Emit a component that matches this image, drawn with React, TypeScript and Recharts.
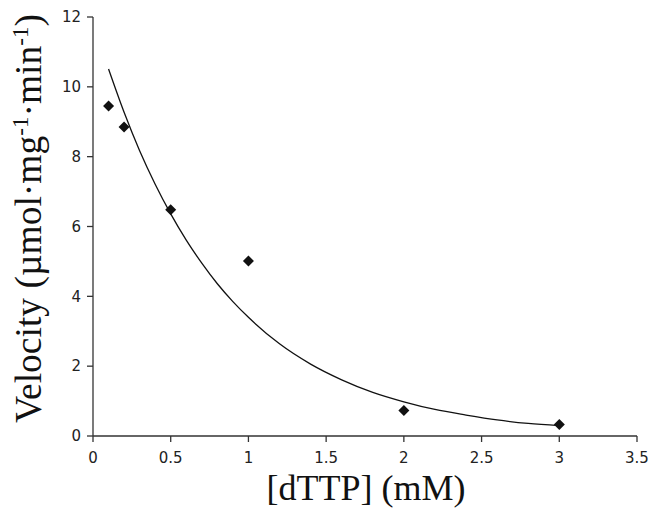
import { ComposedChart, Line, Scatter, XAxis, YAxis, Label } from "recharts";

// measured dTTP concentrations (mM) and velocities
const concentrations = [0.1, 0.2, 0.5, 1, 2, 3];
const velocities = [9.45, 8.85, 6.48, 5.01, 0.73, 0.33];

// fitted trend curve as drawn in the figure
const curveX = [0.1, 0.2, 0.3, 0.4, 0.5, 0.6, 0.7, 0.8, 0.9, 1.0, 1.2, 1.4, 1.6, 1.8, 2.0, 2.2, 2.4, 2.6, 2.8, 3.0];
const curveY = [10.51, 9.27, 8.17, 7.21, 6.36, 5.61, 4.95, 4.36, 3.85, 3.4, 2.64, 2.06, 1.61, 1.25, 0.98, 0.76, 0.6, 0.46, 0.36, 0.3];

const xTicks = [0, 0.5, 1, 1.5, 2, 2.5, 3, 3.5];
const yTicks = [0, 2, 4, 6, 8, 10, 12];

const points = concentrations.map((x, i) => ({ x, y: velocities[i] }));
const curve = curveX.map((x, i) => ({ x, y: curveY[i] }));

const tickStyle = { fontFamily: "DejaVu Sans", fontSize: 15, fill: "#222" };
const serif = "Liberation Serif";

const Diamond = (props: any) => {
  const { cx, cy } = props;
  const r = 5.5;
  return (
    <polygon
      points={`${cx},${cy - r} ${cx + r},${cy} ${cx},${cy + r} ${cx - r},${cy}`}
      fill="#111"
    />
  );
};

const XTitle = (props: any) => {
  const { x, width, y } = props.viewBox;
  return (
    <text x={x + width / 2 + 1} y={y + 64} textAnchor="middle" fontFamily={serif} fontSize={36} fill="#111">
      [dTTP] (mM)
    </text>
  );
};

const YTitle = (props: any) => {
  const { x, y, height } = props.viewBox;
  const cx = x + 41;
  const cy = y + height / 2 - 8;
  return (
    <text
      x={cx}
      y={cy}
      transform={`rotate(-90, ${cx}, ${cy})`}
      textAnchor="middle"
      fontFamily={serif}
      fontSize={37.5}
      fill="#111"
    >
      Velocity (µmol·mg
      <tspan fontSize={23} dy={-13}>-1</tspan>
      <tspan dy={13}>·min</tspan>
      <tspan fontSize={23} dy={-13}>-1</tspan>
      <tspan dy={13}>)</tspan>
    </text>
  );
};

export default function App() {
  return (
    <div style={{ position: "absolute", left: 0, top: 0, background: "#fff" }}>
      <ComposedChart
        width={654}
        height={508}
        margin={{ top: 17, right: 17, bottom: 0, left: 0 }}
      >
        <XAxis
          type="number"
          dataKey="x"
          domain={[0, 3.5]}
          ticks={xTicks}
          height={72}
          tick={tickStyle}
          tickSize={6}
          tickMargin={10}
          stroke="#333"
          strokeWidth={1.3}
        >
          <Label content={XTitle} />
        </XAxis>
        <YAxis
          type="number"
          dataKey="y"
          domain={[0, 12]}
          ticks={yTicks}
          width={93}
          tick={tickStyle}
          tickSize={6}
          tickMargin={6}
          stroke="#333"
          strokeWidth={1.3}
        >
          <Label content={YTitle} />
        </YAxis>
        <Line
          data={curve}
          dataKey="y"
          type="monotone"
          stroke="#111"
          strokeWidth={1.3}
          dot={false}
          isAnimationActive={false}
        />
        <Scatter data={points} dataKey="y" shape={Diamond} isAnimationActive={false} />
      </ComposedChart>
    </div>
  );
}
